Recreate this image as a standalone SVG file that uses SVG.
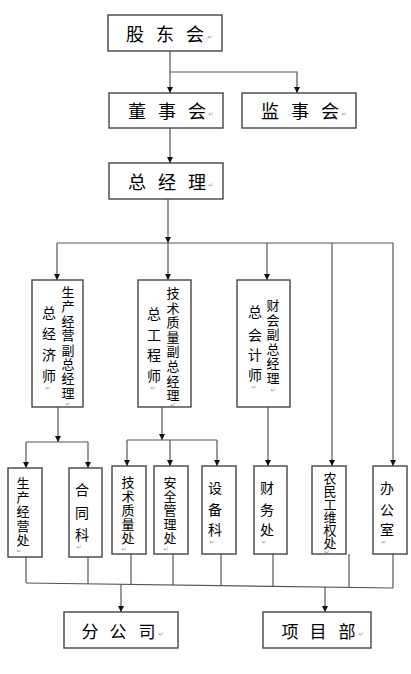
<svg xmlns="http://www.w3.org/2000/svg" width="411" height="674" viewBox="0 0 411 674">
<defs>
<marker id="ah" markerWidth="6" markerHeight="6" refX="6" refY="3" orient="auto" markerUnits="userSpaceOnUse">
<path d="M0,0 L6,3 L0,6 z" fill="#111"/>
</marker>
<style>
.box{fill:#fff;stroke:#444;stroke-width:1.4}
.ln{fill:none;stroke:#555;stroke-width:1.2}
.ar{marker-end:url(#ah)}
.big{font-family:"Noto Sans CJK SC","Noto Sans CJK JP",sans-serif;font-size:18px;fill:#000;text-anchor:middle}
.mid{font-family:"Noto Sans CJK SC","Noto Sans CJK JP",sans-serif;font-size:17px;fill:#000;text-anchor:middle}
.v{font-family:"Noto Sans CJK SC","Noto Sans CJK JP",sans-serif;font-size:14px;fill:#000;text-anchor:middle}
.vs{font-family:"Noto Sans CJK SC","Noto Sans CJK JP",sans-serif;font-size:13px;fill:#000;text-anchor:middle}
.pm{font-family:"DejaVu Sans",sans-serif;font-size:6px;fill:#999;text-anchor:middle}
</style>
</defs>
<rect width="411" height="674" fill="#fff"/>

<g id="connectors">
<path class="ln ar" d="M170,51 V93"/>
<path class="ln ar" d="M170,72 H297 V93"/>
<path class="ln ar" d="M170,128 V163"/>
<path class="ln ar" d="M168,199 V243"/>
<path class="ln ar" d="M168,243 V280"/>
<path class="ln" d="M57,243 H393"/>
<path class="ln ar" d="M57,243 V280"/>
<path class="ln ar" d="M267,243 V280"/>
<path class="ln ar" d="M332,243 V466"/>
<path class="ln ar" d="M393,243 V466"/>
<path class="ln ar" d="M58,407 V442"/>
<path class="ln" d="M26,442 H88"/>
<path class="ln ar" d="M26,442 V468"/>
<path class="ln ar" d="M88,442 V468"/>
<path class="ln ar" d="M162,407 V440"/>
<path class="ln" d="M127,440 H217"/>
<path class="ln ar" d="M127,440 V466"/>
<path class="ln ar" d="M170,440 V466"/>
<path class="ln ar" d="M217,440 V466"/>
<path class="ln ar" d="M268,407 V466"/>
<path class="ln" d="M26,583 L393,588"/>
<path class="ln" d="M26,557 V583"/>
<path class="ln" d="M88,557 V583.8"/>
<path class="ln" d="M131,554 V584.4"/>
<path class="ln" d="M173,554 V585"/>
<path class="ln" d="M221,554 V585.7"/>
<path class="ln" d="M273,554 V586.4"/>
<path class="ln" d="M349,554 V587.4"/>
<path class="ln" d="M393,554 V588"/>
<path class="ln ar" d="M121,584.3 V612"/>
<path class="ln ar" d="M325,587.1 V612"/>
</g>

<g id="gudonghui">
<rect class="box" x="108" y="15" width="114" height="36"/>
<text class="big" y="41"><tspan x="135">股</tspan><tspan x="165">东</tspan><tspan x="195">会</tspan></text>
<text class="pm" x="210" y="39">↵</text>
</g>
<g id="dongshihui">
<rect class="box" x="109" y="93" width="114" height="35"/>
<text class="big" y="118"><tspan x="137">董</tspan><tspan x="167">事</tspan><tspan x="197">会</tspan></text>
<text class="pm" x="211" y="116">↵</text>
</g>
<g id="jianshihui">
<rect class="box" x="242" y="93" width="114" height="35"/>
<text class="big" y="118"><tspan x="270">监</tspan><tspan x="300">事</tspan><tspan x="330">会</tspan></text>
<text class="pm" x="344" y="116">↵</text>
</g>
<g id="zongjingli">
<rect class="box" x="109" y="163" width="114" height="36"/>
<text class="big" y="189"><tspan x="137">总</tspan><tspan x="167">经</tspan><tspan x="197">理</tspan></text>
<text class="pm" x="211" y="187">↵</text>
</g>

<g id="vp-production">
<rect class="box" x="32" y="280" width="51" height="127"/>
<text class="vs"><tspan x="68" y="297">生</tspan><tspan x="68" y="311.4">产</tspan><tspan x="68" y="325.8">经</tspan><tspan x="68" y="340.2">营</tspan><tspan x="68" y="354.6">副</tspan><tspan x="68" y="369">总</tspan><tspan x="68" y="383.4">经</tspan><tspan x="68" y="397.8">理</tspan></text>
<text class="v"><tspan x="49" y="318">总</tspan><tspan x="49" y="339">经</tspan><tspan x="49" y="360">济</tspan><tspan x="49" y="381">师</tspan></text>
<text class="pm" x="48" y="390">↵</text>
<text class="pm" x="68" y="406">↵</text>
</g>
<g id="vp-tech">
<rect class="box" x="138" y="280" width="53" height="127"/>
<text class="vs"><tspan x="173" y="298">技</tspan><tspan x="173" y="312.6">术</tspan><tspan x="173" y="327.2">质</tspan><tspan x="173" y="341.8">量</tspan><tspan x="173" y="356.4">副</tspan><tspan x="173" y="371">总</tspan><tspan x="173" y="385.6">经</tspan><tspan x="173" y="400.2">理</tspan></text>
<text class="v"><tspan x="154" y="319">总</tspan><tspan x="154" y="340">工</tspan><tspan x="154" y="360">程</tspan><tspan x="154" y="381">师</tspan></text>
<text class="pm" x="153" y="390">↵</text>
<text class="pm" x="173" y="407">↵</text>
</g>
<g id="vp-finance">
<rect class="box" x="237" y="280" width="53" height="127"/>
<text class="vs"><tspan x="273" y="310">财</tspan><tspan x="273" y="324.6">会</tspan><tspan x="273" y="339.2">副</tspan><tspan x="273" y="353.8">总</tspan><tspan x="273" y="368.4">经</tspan><tspan x="273" y="383">理</tspan></text>
<text class="v"><tspan x="255" y="317">总</tspan><tspan x="255" y="340">会</tspan><tspan x="255" y="360">计</tspan><tspan x="255" y="380">师</tspan></text>
<text class="pm" x="254" y="389">↵</text>
<text class="pm" x="273" y="392">↵</text>
</g>

<g id="dept-production">
<rect class="box" x="8" y="468" width="34" height="89"/>
<text class="vs"><tspan x="23" y="488">生</tspan><tspan x="23" y="502.2">产</tspan><tspan x="23" y="516.4">经</tspan><tspan x="23" y="530.6">营</tspan><tspan x="23" y="544.8">处</tspan></text>
<text class="pm" x="19" y="553">↵</text>
</g>
<g id="dept-contract">
<rect class="box" x="69" y="468" width="33" height="89"/>
<text class="v"><tspan x="82" y="495">合</tspan><tspan x="82" y="518">同</tspan><tspan x="82" y="540">科</tspan></text>
<text class="pm" x="79" y="549">↵</text>
</g>
<g id="dept-quality">
<rect class="box" x="112" y="466" width="34" height="88"/>
<text class="vs"><tspan x="128" y="487">技</tspan><tspan x="128" y="501">术</tspan><tspan x="128" y="515">质</tspan><tspan x="128" y="529">量</tspan><tspan x="128" y="543">处</tspan></text>
<text class="pm" x="124" y="551">↵</text>
</g>
<g id="dept-safety">
<rect class="box" x="154" y="466" width="34" height="88"/>
<text class="vs"><tspan x="170" y="487">安</tspan><tspan x="170" y="501">全</tspan><tspan x="170" y="515">管</tspan><tspan x="170" y="529">理</tspan><tspan x="170" y="543">处</tspan></text>
<text class="pm" x="166" y="551">↵</text>
</g>
<g id="dept-equipment">
<rect class="box" x="202" y="466" width="34" height="88"/>
<text class="v"><tspan x="215" y="493">设</tspan><tspan x="215" y="515">备</tspan><tspan x="215" y="535">科</tspan></text>
<text class="pm" x="212" y="544">↵</text>
</g>
<g id="dept-finance">
<rect class="box" x="254" y="466" width="33" height="88"/>
<text class="v"><tspan x="267" y="493">财</tspan><tspan x="267" y="515">务</tspan><tspan x="267" y="535">处</tspan></text>
<text class="pm" x="264" y="544">↵</text>
</g>
<g id="dept-workers">
<rect class="box" x="312" y="466" width="34" height="88"/>
<text class="vs"><tspan x="330" y="483">农</tspan><tspan x="330" y="496">民</tspan><tspan x="330" y="509">工</tspan><tspan x="330" y="522">维</tspan><tspan x="330" y="535">权</tspan><tspan x="330" y="548">处</tspan></text>
<text class="pm" x="327" y="554">↵</text>
</g>
<g id="dept-office">
<rect class="box" x="373" y="466" width="34" height="88"/>
<text class="v"><tspan x="387" y="493">办</tspan><tspan x="387" y="515">公</tspan><tspan x="387" y="535">室</tspan></text>
<text class="pm" x="384" y="544">↵</text>
</g>

<g id="fengongsi">
<rect class="box" x="64" y="612" width="114" height="36"/>
<text class="mid" y="638"><tspan x="90">分</tspan><tspan x="118">公</tspan><tspan x="147">司</tspan></text>
<text class="pm" x="161" y="636">↵</text>
</g>
<g id="xiangmubu">
<rect class="box" x="263" y="612" width="108" height="36"/>
<text class="mid" y="638"><tspan x="290">项</tspan><tspan x="318">目</tspan><tspan x="347">部</tspan></text>
<text class="pm" x="361" y="636">↵</text>
</g>
</svg>
